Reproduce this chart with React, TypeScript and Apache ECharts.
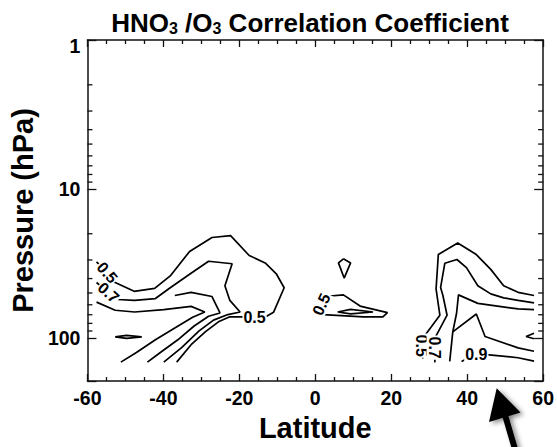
import React, { useEffect, useRef } from "react";
import * as echarts from "echarts";

// ---- axis values ----
const latMin = -60;
const latMax = 60;
const latStep = 20;
const pressureTop = 1;
const pressureBottom = 195;
const pressureMinor = [2, 3, 4, 5, 6, 7, 8, 9, 20, 30, 40, 50, 60, 70, 80, 90];

// ---- contour lines: [latitude, pressure hPa] ----
const contour05West = [
  [-57.6, 30.9], [-54.8, 36.5], [-52.7, 42.5], [-47.7, 48.7], [-42.3, 46.6], [-38.2, 38.4],
  [-33.1, 26.3], [-27.2, 21.2], [-22.3, 20.6], [-17.4, 28.0], [-13.2, 31.4], [-10.2, 37.4],
  [-8.2, 46.1], [-11.0, 67.4], [-12.8, 71.6], [-16.0, 72.7], [-19.4, 72.3], [-22.5, 72.3],
  [-25.5, 78.1], [-28.9, 90.9], [-32.7, 111.2], [-36.5, 145.6],
];
const contour07West = [
  [-57.6, 42.5], [-54.45, 49.7], [-52.0, 55.3], [-47.6, 56.1], [-42.1, 54.5], [-38.2, 46.1],
  [-33.1, 37.4], [-28.1, 30.6], [-21.9, 31.8], [-23.8, 44.7], [-22.5, 56.1], [-19.8, 67.1],
  [-23.0, 69.8], [-26.8, 76.1], [-30.6, 89.9], [-35.2, 116.4], [-39.9, 145.6],
];
const contour09West = [
  [-37.0, 52.0], [-32.7, 49.5], [-27.2, 52.8], [-25.1, 68.1], [-28.1, 71.6], [-31.9, 83.3],
  [-36.2, 103.1], [-40.8, 125.6], [-44.2, 145.6],
];
const contourInnerWest = [
  [-57.6, 57.6], [-52.7, 65.3], [-47.6, 67.1], [-39.9, 64.7], [-32.7, 61.5], [-29.1, 67.1],
  [-32.3, 72.7], [-37.0, 85.9], [-42.1, 103.1], [-47.1, 125.6], [-51.2, 145.6],
];
const lensWest = [[-52.7, 98.5], [-49.7, 96.3], [-45.7, 98.5], [-49.7, 100.8], [-52.7, 98.5]];
const contour05Equator = [
  [3.2, 52.6], [7.4, 51.5], [11.8, 61.2], [19.0, 67.7], [17.8, 72.3], [12.7, 72.3],
  [2.1, 69.8], [1.6, 59.6], [3.2, 52.6],
];
const lensEquator = [[5.9, 67.1], [9.3, 64.4], [15.2, 67.1], [9.3, 69.1], [5.9, 67.1]];
const kiteEquator = [[7.4, 29.5], [9.3, 31.4], [7.6, 39.7], [6.1, 31.4], [7.4, 29.5]];
const contour05East = [
  [28.3, 137.6], [28.0, 112.9], [29.0, 95.5], [32.8, 70.5], [31.8, 47.0], [32.4, 27.6],
  [37.5, 23.1], [42.4, 27.6], [46.2, 34.7], [49.6, 44.7], [53.4, 49.5], [57.6, 52.0],
];
const contour07East = [
  [31.5, 146.2], [31.4, 116.4], [31.8, 97.0], [34.7, 70.5], [33.6, 52.0], [33.0, 45.9],
  [34.1, 31.6], [37.3, 29.8], [39.8, 33.8], [42.8, 44.7], [46.2, 50.7], [49.6, 53.9],
  [53.4, 56.1], [57.6, 58.2],
];
const contourInnerEast = [
  [35.4, 144.0], [36.2, 91.3], [37.2, 68.4], [37.7, 51.5], [42.8, 58.7], [47.5, 61.0],
  [53.4, 64.0], [57.6, 64.6],
];
const contour09EastUpper = [[36.2, 91.3], [42.4, 69.2], [44.7, 98.0], [53.4, 116.9], [57.6, 123.1]];
const contour09East = [[38.5, 144.0], [42.4, 128.5], [45.8, 130.1], [53.4, 136.1], [57.6, 143.3]];
const chevronEast = [[57.6, 93.1], [55.5, 98.0], [57.6, 101.5]];

const contours = [
  contour05West, contour07West, contour09West, contourInnerWest, lensWest,
  contour05Equator, lensEquator, kiteEquator,
  contour05East, contour07East, contourInnerEast, contour09EastUpper, contour09East, chevronEast,
];

// ---- contour labels ----
const labelTexts = ["0.5", "0.7", "0.5", "0.5", "0.5", "0.7", "0.9"];
const labelLats = [-54.8, -54.45, -16.0, 1.6, 28.0, 31.4, 42.4];
const labelPressures = [36.5, 49.7, 72.7, 59.6, 112.9, 116.4, 128.5];
const labelAngles = [-50, -42, 0, 65, -90, -90, 0];

const FF = "'Liberation Sans', Arial, Helvetica, sans-serif";
const lg = (p: number) => Math.log10(p);

export default function App() {
  const ref = useRef<HTMLDivElement>(null);
  useEffect(() => {
    if (!ref.current) return;
    const chart = echarts.init(ref.current, undefined, { renderer: "svg" });
    const axisColor = "#111";
    const lineStyle = { color: axisColor, width: 1.5 };
    const tickStyle = { color: axisColor, width: 1.3 };
    const xBase = {
      type: "value" as const,
      min: latMin,
      max: latMax,
      interval: latStep,
      axisLine: { show: true, onZero: false, lineStyle },
      axisTick: { show: true, inside: true, length: 7, lineStyle: tickStyle },
      minorTick: { show: true, splitNumber: 4, length: 4, lineStyle: tickStyle },
      splitLine: { show: false },
      minorSplitLine: { show: false },
    };
    const yBase = {
      type: "value" as const,
      min: lg(pressureTop),
      max: lg(pressureBottom),
      interval: 1,
      inverse: true,
      axisLine: { show: true, onZero: false, lineStyle },
      axisTick: { show: true, inside: true, length: 9, lineStyle: tickStyle },
      splitLine: { show: false },
    };
    const labelFont = { color: "#000", fontSize: 19.5, fontWeight: "bold", fontFamily: FF };
    const option: any = {
      animation: false,
      backgroundColor: "#fff",
      title: {
        text: "{a|HNO}{s|3}{a| /O}{s|3}{a| Correlation Coefficient}",
        left: 310,
        top: 8,
        textAlign: "center",
        padding: 0,
        textStyle: {
          rich: {
            a: { fontSize: 26, fontWeight: "bold", color: "#000", fontFamily: FF, lineHeight: 30 },
            s: { fontSize: 16, fontWeight: "bold", color: "#000", fontFamily: FF, lineHeight: 30, padding: [10, 0, 0, 0] },
          },
        },
      },
      grid: { left: 74.5, right: 11, top: 40, bottom: 60.5, containLabel: false },
      xAxis: [
        {
          ...xBase,
          position: "bottom",
          axisLabel: { ...labelFont, margin: 7 },
          name: "Latitude",
          nameLocation: "middle",
          nameGap: 32,
          nameTextStyle: { color: "#000", fontSize: 29, fontWeight: "bold", fontFamily: FF },
        },
        { ...xBase, position: "top", axisLabel: { show: false } },
      ],
      yAxis: [
        {
          ...yBase,
          position: "left",
          axisLabel: {
            ...labelFont,
            margin: 7,
            formatter: (v: number) => {
              if (Math.abs(v - Math.round(v)) > 1e-6) return "";
              const s = String(Math.pow(10, Math.round(v)));
              return Math.round(v) === 0 ? "{t|" + s + "}" : s;
            },
            rich: { t: { ...labelFont, padding: [12, 0, 0, 0] } },
          },
          name: "Pressure (hPa)",
          nameLocation: "middle",
          nameGap: 29,
          nameRotate: 90,
          nameTextStyle: { color: "#000", fontSize: 29, fontWeight: "bold", fontFamily: FF },
        },
        { ...yBase, position: "right", axisLabel: { show: false } },
      ],
      series: [
        ...contours.map((c) => ({
          type: "line",
          xAxisIndex: 0,
          yAxisIndex: 0,
          data: c.map(([lat, p]) => [lat, lg(p)]),
          symbol: "none",
          showSymbol: false,
          silent: true,
          lineStyle: { color: "#000", width: 1.7 },
          z: 2,
        })),
        {
          // logarithmic minor ticks on left and right frame
          type: "custom",
          xAxisIndex: 0,
          yAxisIndex: 0,
          silent: true,
          z: 3,
          data: pressureMinor.map((p) => [latMin, lg(p)]),
          renderItem: (params: any, api: any) => {
            const v = api.value(1);
            const l = api.coord([latMin, v]);
            const r = api.coord([latMax, v]);
            const st = { stroke: axisColor, lineWidth: 1.3 };
            return {
              type: "group",
              children: [
                { type: "line", shape: { x1: l[0], y1: l[1], x2: l[0] + 5, y2: l[1] }, style: st },
                { type: "line", shape: { x1: r[0] - 5, y1: r[1], x2: r[0], y2: r[1] }, style: st },
              ],
            };
          },
        },
        {
          type: "scatter",
          xAxisIndex: 0,
          yAxisIndex: 0,
          symbolSize: 1,
          itemStyle: { color: "rgba(255,255,255,0)" },
          silent: true,
          z: 5,
          label: {
            show: true,
            position: "inside",
            color: "#000",
            opacity: 1,
            fontSize: 16,
            fontWeight: "bold",
            fontFamily: FF,
            backgroundColor: "#fff",
            padding: [0, 1],
          },
          labelLayout: { hideOverlap: false },
          data: labelTexts.map((t, i) => ({
            value: [labelLats[i], lg(labelPressures[i])],
            label: { formatter: t, rotate: labelAngles[i] },
          })),
        },
      ],
      graphic: [
        {
          type: "line",
          shape: { x1: 505, y1: 415, x2: 517, y2: 456 },
          style: { stroke: "#000", lineWidth: 6, shadowBlur: 5, shadowColor: "rgba(0,0,0,0.45)", shadowOffsetX: 3, shadowOffsetY: 2 },
          z: 10,
        },
        {
          type: "polygon",
          shape: { points: [[496.7, 388.3], [520.5, 412.5], [489, 422]] },
          style: { fill: "#000", shadowBlur: 5, shadowColor: "rgba(0,0,0,0.45)", shadowOffsetX: 3, shadowOffsetY: 2 },
          z: 11,
        },
      ],
    };
    chart.setOption(option);
    return () => chart.dispose();
  }, []);
  return (
    <div
      ref={ref}
      style={{ position: "fixed", left: 0, top: 0, width: 557, height: 447, background: "#fff" }}
    />
  );
}
